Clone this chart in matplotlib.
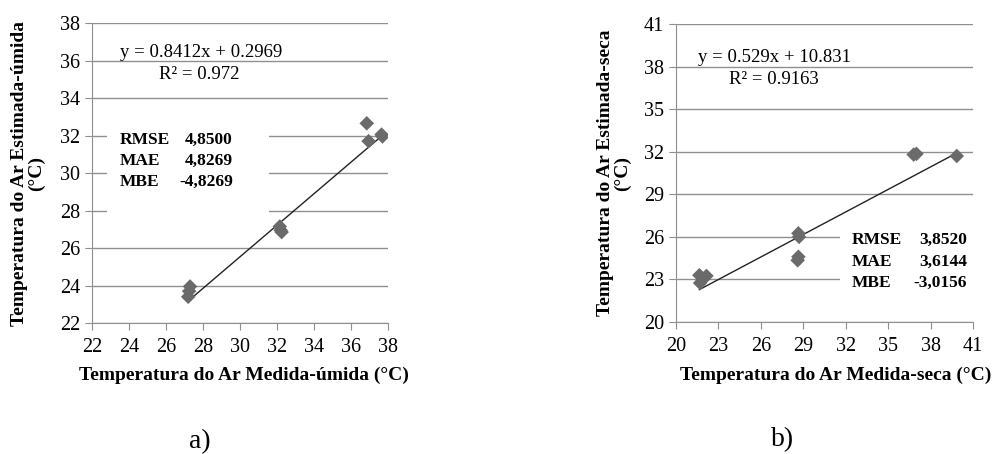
import numpy as np
import matplotlib.pyplot as plt
import matplotlib as mpl
from matplotlib.patches import Rectangle

mpl.rcParams.update({'font.family': 'Liberation Serif', 'font.size': 13})

# panel a) - wet season
x_umida = [27.2, 27.25, 27.3, 32.15, 32.2, 32.25, 36.85, 36.95, 37.65, 37.7]
y_umida = [23.4, 23.7, 23.95, 27.15, 26.95, 26.85, 32.65, 31.7, 32.05, 31.95]
coef_umida = (0.8412, 0.2969)
eq_umida = ['y = 0.8412x + 0.2969', 'R² = 0.972']
stats_umida = [('RMSE', '4,8500'), ('MAE', '4,8269'), ('MBE', '-4,8269')]
ticks_umida = [22, 24, 26, 28, 30, 32, 34, 36, 38]

# panel b) - dry season
x_seca = [21.65, 22.15, 21.7, 28.65, 28.7, 28.65, 28.6, 36.8, 37.0, 39.85]
y_seca = [23.3, 23.25, 22.75, 26.25, 26.0, 24.6, 24.35, 31.8, 31.85, 31.7]
coef_seca = (0.529, 10.831)
eq_seca = ['y = 0.529x + 10.831', 'R² = 0.9163']
stats_seca = [('RMSE', '3,8520'), ('MAE', '3,6144'), ('MBE', '-3,0156')]
ticks_seca = [20, 23, 26, 29, 32, 35, 38, 41]

grid_col = '#8f8f8f'
mark_col = '#6a6a6a'

fig = plt.figure(figsize=(9.98, 4.54), dpi=100)


def panel(rect, xs, ys, coef, eq, stats, ticks, xlabel, ylabel, tag,
          eq_pos, box, st_pos, xl_pos, yl_x, tag_pos):
    ax = fig.add_axes(rect)
    ax.set_xlim(ticks[0], ticks[-1])
    ax.set_ylim(ticks[0], ticks[-1])
    ax.set_xticks(ticks)
    ax.set_yticks(ticks)
    ax.yaxis.grid(True, color=grid_col, linewidth=1.0)
    ax.set_axisbelow(True)
    for s in ['top', 'right']:
        ax.spines[s].set_visible(False)
    for s in ['left', 'bottom']:
        ax.spines[s].set_color(grid_col)
    ax.tick_params(direction='out', length=5, color=grid_col, labelsize=14.5)
    ax.tick_params(axis='x', pad=6)
    # white box behind the error statistics
    ax.add_patch(Rectangle((box[0], box[1]), box[2], box[3], transform=ax.transAxes,
                           facecolor='white', edgecolor='none', zorder=1.5))
    xf = np.array([min(xs), max(xs)])
    ax.plot(xf, coef[0] * xf + coef[1], color='#222222', linewidth=1.0, zorder=2.5)
    ax.scatter(xs, ys, marker='D', s=55, color=mark_col, edgecolor='none', zorder=3)
    ax.text(eq_pos[0], eq_pos[1], eq[0], transform=ax.transAxes,
            ha='center', va='center', fontsize=13.5, zorder=4)
    ax.text(eq_pos[2], eq_pos[3], eq[1], transform=ax.transAxes,
            ha='center', va='center', fontsize=13.5, zorder=4)
    for i, (lab, val) in enumerate(stats):
        y = st_pos[2] - i * st_pos[3]
        ax.text(st_pos[0], y, lab, transform=ax.transAxes, ha='left', va='center',
                fontsize=12.5, fontweight='bold', zorder=4)
        ax.text(st_pos[1], y, val, transform=ax.transAxes, ha='right', va='center',
                fontsize=12.5, fontweight='bold', zorder=4)
    ax.text(xl_pos[0], xl_pos[1], xlabel, transform=ax.transAxes, ha='center',
            va='center', fontsize=14, fontweight='bold')
    ax.text(yl_x, 0.5, ylabel, transform=ax.transAxes, ha='center', va='center',
            rotation=90, fontsize=14, fontweight='bold', multialignment='center',
            linespacing=1.0)
    fig.text(tag_pos[0], tag_pos[1], tag, ha='center', va='center', fontsize=20)
    return ax


panel([0.0922, 0.2885, 0.2966, 0.6608], x_umida, y_umida, coef_umida, eq_umida,
      stats_umida, ticks_umida, 'Temperatura do Ar Medida-úmida (°C)',
      'Temperatura do Ar Estimada-úmida\n(°C)', 'a)',
      (0.367, 0.903, 0.363, 0.83), (0.05, 0.31, 0.548, 0.40),
      (0.095, 0.476, 0.61, 0.07), (0.514, -0.173), -0.216, (200 / 998, 1 - 442 / 454))

panel([0.6774, 0.2907, 0.2976, 0.6564], x_seca, y_seca, coef_seca, eq_seca,
      stats_seca, ticks_seca, 'Temperatura do Ar Medida-seca (°C)',
      'Temperatura do Ar Estimada-seca\n(°C)', 'b)',
      (0.332, 0.886, 0.328, 0.815), (0.552, 0.074, 0.46, 0.286),
      (0.593, 0.98, 0.275, 0.072), (0.539, -0.178), -0.209, (783 / 998, 1 - 440 / 454))

fig.savefig('out.png', dpi=100)
